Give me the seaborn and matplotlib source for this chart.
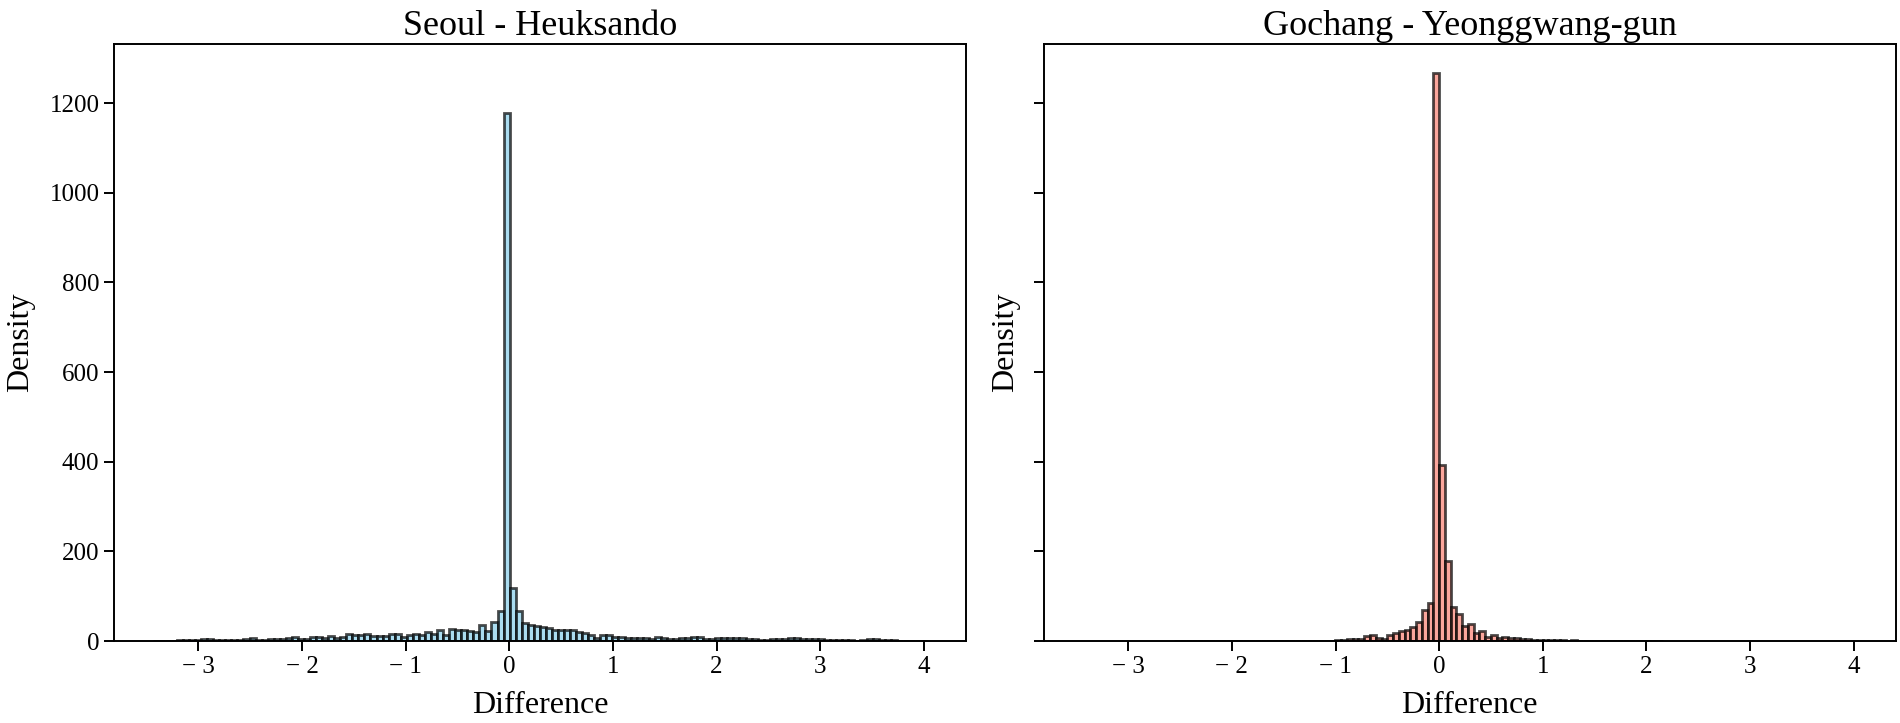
import numpy as np
import pandas as pd
import matplotlib
matplotlib.use("Agg")
import matplotlib.pyplot as plt
import seaborn as sns
from matplotlib.ticker import FuncFormatter, MultipleLocator

# ---------------- data ----------------
titles = ["Seoul - Heuksando", "Gochang - Yeonggwang-gun"]
x_label = "Difference"
y_label = "Density"

# Seoul - Heuksando: 128 bins starting at -3.44, width 0.05836
seoul_start = -3.44
seoul_width = 0.05836
seoul_counts = [
    1, 0, 1, 1, 2,
    3, 3, 2, 5, 5,
    3, 3, 2, 2, 2,
    4, 6, 3, 2, 5,
    5, 5, 6, 9, 4,
    5, 9, 8, 7, 11,
    7, 8, 16, 14, 13,
    16, 12, 12, 11, 16,
    16, 10, 14, 16, 13,
    19, 15, 25, 14, 26,
    24, 24, 22, 20, 35,
    22, 42, 67,
    1178,
    118, 68, 40, 36, 33,
    31, 28, 24, 24, 24,
    24, 21, 18, 14, 7,
    13, 13, 10, 10, 7,
    7, 7, 7, 4, 10,
    6, 4, 5, 6, 7,
    10, 10, 5, 5, 6,
    6, 7, 7, 6, 5,
    5, 3, 3, 5, 5,
    4, 7, 7, 5, 5,
    5, 4, 3, 3, 3,
    3, 3, 1, 2, 4,
    4, 3, 3, 3, 1,
    0, 0, 0, 1,
]

# Gochang - Yeonggwang-gun: 85 bins starting at -2.5545, width 0.0555
gochang_start = -2.5545
gochang_width = 0.0555
gochang_counts = [
    1, 0, 0, 0, 0, 0, 0, 1, 0, 0,
    0, 0, 0, 0, 0, 1, 0, 0, 0, 1,
    1, 1, 1, 1, 1, 1, 1, 1, 2, 2,
    4, 4, 5, 11, 13, 7, 5, 13, 18, 23,
    24, 31, 42, 70, 85,
    1268,
    393, 179, 75, 60, 34,
    38, 17, 22, 8, 13,
    6, 10, 6, 7, 4,
    5, 3, 3, 2, 2,
    2, 2, 1, 2, 1,
    1, 1, 1, 1, 0,
    0, 0, 0, 0, 0,
    0, 0, 0, 1,
]

colors = ["skyblue", "salmon"]

# ---------------- style ----------------
sns.set_theme(style="ticks")
plt.rcParams["font.family"] = ["Liberation Serif", "DejaVu Serif"]
plt.rcParams["axes.edgecolor"] = "black"
plt.rcParams["axes.linewidth"] = 1.4
plt.rcParams["xtick.color"] = "black"
plt.rcParams["ytick.color"] = "black"
plt.rcParams["text.color"] = "black"
plt.rcParams["axes.labelcolor"] = "black"

fig, axes = plt.subplots(1, 2, figsize=(19, 7.23), dpi=100, sharex=True, sharey=True)
fig.subplots_adjust(left=0.06, right=0.9977, bottom=0.1134, top=0.9387, wspace=0.0918)

series = [
    (seoul_start, seoul_width, seoul_counts),
    (gochang_start, gochang_width, gochang_counts),
]


def minus_fmt(v, pos):
    iv = int(round(v))
    return ("\u2212 " + str(abs(iv))) if iv < 0 else str(iv)


for ax, (start, width, counts), color, title in zip(axes, series, colors, titles):
    counts = np.asarray(counts, dtype=float)
    edges = start + width * np.arange(len(counts) + 1)
    centers = 0.5 * (edges[:-1] + edges[1:])
    df = pd.DataFrame({"diff": centers, "count": counts})
    sns.histplot(data=df, x="diff", weights="count", bins=list(edges), ax=ax,
                 color=color, edgecolor=(0, 0, 0, 0.7), alpha=0.7, linewidth=2.0)
    ax.set_title(title, fontsize=26, pad=7)
    ax.set_xlabel(x_label, fontsize=23, labelpad=10)
    ax.set_ylabel(y_label, fontsize=23, labelpad=10)
    ax.yaxis.label.set_visible(True)
    ax.xaxis.set_major_locator(MultipleLocator(1))
    ax.xaxis.set_major_formatter(FuncFormatter(minus_fmt))
    ax.yaxis.set_major_locator(MultipleLocator(200))
    ax.tick_params(axis="both", direction="out", length=7, width=1.4, labelsize=18)
    for s in ax.spines.values():
        s.set_visible(True)
        s.set_linewidth(1.4)
        s.set_color("black")

fig.savefig("out.png", dpi=100)
